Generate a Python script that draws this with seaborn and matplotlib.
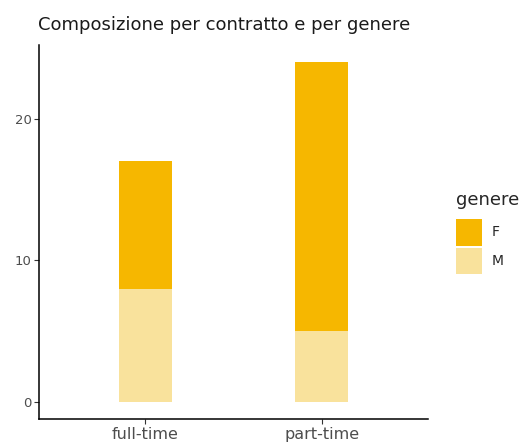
import matplotlib
matplotlib.use("Agg")
import matplotlib.pyplot as plt
import matplotlib.patches as mpatches
import seaborn as sns
import pandas as pd

categories = ["full-time", "part-time"]
m_values = [8, 5]
f_values = [9, 19]
genders = ["F", "M"]
colors = {"F": "#F6B700", "M": "#F9E29C"}

sns.set_theme(style="white")
plt.rcParams['font.family'] = ['DejaVu Sans']

totals = [m + f for m, f in zip(m_values, f_values)]
df = pd.DataFrame({"contratto": categories, "M": m_values, "F": f_values, "tot": totals})

fig = plt.figure(figsize=(5.23, 4.43), dpi=100)
ax = fig.add_axes([0.0746, 0.0542, 0.7436, 0.8438])

sns.barplot(data=df, x="contratto", y="tot", color=colors["F"], width=0.3,
            saturation=1, ax=ax, order=categories, linewidth=0, edgecolor="none")
sns.barplot(data=df, x="contratto", y="M", color=colors["M"], width=0.3,
            saturation=1, ax=ax, order=categories, linewidth=0, edgecolor="none")

ax.set_xlim(-0.6, 1.6)
ax.set_ylim(-1.2, 25.2)
ax.set_yticks([0, 10, 20])
ax.set_xlabel("")
ax.set_ylabel("")
for s in ["top", "right"]:
    ax.spines[s].set_visible(False)
for s in ["left", "bottom"]:
    ax.spines[s].set_color("black")
    ax.spines[s].set_linewidth(1.1)
ax.tick_params(axis="both", which="both", length=3.5, width=0.8, color="#333333",
               labelcolor="#4D4D4D", direction="out", left=True, bottom=True, pad=2)
ax.tick_params(axis="x", labelsize=11.5)
ax.tick_params(axis="y", labelsize=9.5)
ax.grid(False)

fig.text(0.0727, 0.944, "Composizione per contratto e per genere", fontsize=13,
         color="#1a1a1a", ha="left", va="center")

handles = [mpatches.Patch(facecolor=colors[g], edgecolor="none", label=g) for g in genders]
leg = fig.legend(handles=handles, title="genere", loc="upper left",
                 bbox_to_anchor=(0.872, 0.569), frameon=False, fontsize=10,
                 title_fontsize=13, handlelength=1.87, handleheight=2.6,
                 handletextpad=0.7, labelspacing=0.15, alignment="left", borderpad=0,
                 borderaxespad=0)
leg._legend_box.sep = 7

fig.savefig("out.png", dpi=100)
